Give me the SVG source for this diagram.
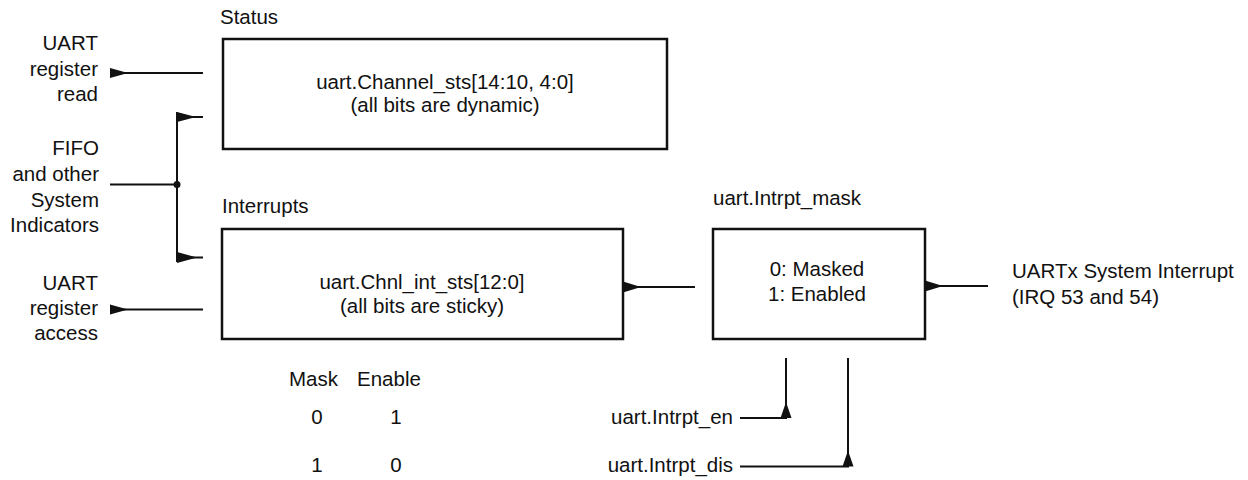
<svg xmlns="http://www.w3.org/2000/svg" width="1248" height="480" viewBox="0 0 1248 480">
<style>
text{font-family:"Liberation Sans",Arial,sans-serif;font-size:20.5px;fill:#111}
.r{text-anchor:end}
.m{text-anchor:middle}
.box{fill:#fff;stroke:#111;stroke-width:2.5}
.ln{fill:none;stroke:#111;stroke-width:2}
.ah{fill:#111;stroke:none}
</style>
<rect width="1248" height="480" fill="#fff"/>
<g id="labels-left">
<text class="r" x="98" y="50">UART</text>
<text class="r" x="98" y="76">register</text>
<text class="r" x="98" y="101">read</text>
<text class="r" x="99" y="155">FIFO</text>
<text class="r" x="99" y="181">and other</text>
<text class="r" x="99" y="207">System</text>
<text class="r" x="99" y="232">Indicators</text>
<text class="r" x="98" y="290">UART</text>
<text class="r" x="98" y="315">register</text>
<text class="r" x="98" y="340">access</text>
</g>
<g id="status">
<text x="220" y="24">Status</text>
<rect class="box" x="223" y="39" width="444" height="110"/>
<text class="m" x="445" y="88.5">uart.Channel_sts[14:10, 4:0]</text>
<text class="m" x="445" y="112">(all bits are dynamic)</text>
</g>
<g id="interrupts">
<text x="222" y="213">Interrupts</text>
<rect class="box" x="222" y="229" width="401" height="110"/>
<text class="m" x="422" y="289">uart.Chnl_int_sts[12:0]</text>
<text class="m" x="422" y="313">(all bits are sticky)</text>
</g>
<g id="mask">
<text x="713" y="205">uart.Intrpt_mask</text>
<rect class="box" x="713" y="229" width="212" height="110"/>
<text class="m" x="817" y="276">0: Masked</text>
<text class="m" x="817" y="301">1: Enabled</text>
</g>
<g id="output">
<text x="1012" y="278">UARTx System Interrupt</text>
<text x="1012" y="304">(IRQ 53 and 54)</text>
</g>
<g id="table">
<text x="289" y="386">Mask</text>
<text x="357" y="386">Enable</text>
<text class="m" x="317" y="424">0</text>
<text class="m" x="396" y="424">1</text>
<text class="m" x="317" y="472">1</text>
<text class="m" x="396" y="472">0</text>
</g>
<g id="controls">
<text class="r" x="733" y="424">uart.Intrpt_en</text>
<text class="r" x="733" y="472">uart.Intrpt_dis</text>
</g>
<g id="connectors">
<path class="ln" d="M110 73H203"/>
<path class="ah" d="M110 68L128 73L110 78Z"/>
<path class="ln" d="M110 184.5H177M177 112V262M177 117H203M177 257.5H203"/>
<circle class="ah" cx="177" cy="184.5" r="3.5"/>
<path class="ah" d="M177 112L196 117L177 122Z"/>
<path class="ah" d="M177 252L197 257.5L177 263Z"/>
<path class="ln" d="M110 309.5H203"/>
<path class="ah" d="M110 304.5L128 309.5L110 314.5Z"/>
<path class="ln" d="M623 287H695"/>
<path class="ah" d="M623 281.5L641 287L623 292.5Z"/>
<path class="ln" d="M925 286H988"/>
<path class="ah" d="M925 280.5L943 286L925 291.5Z"/>
<path class="ln" d="M740 418H786V358"/>
<path class="ah" d="M780.5 418L786 402L791.5 418Z"/>
<path class="ln" d="M740 466.5H848V358"/>
<path class="ah" d="M842.5 466.5L848 450.5L853.5 466.5Z"/>
</g>
</svg>
